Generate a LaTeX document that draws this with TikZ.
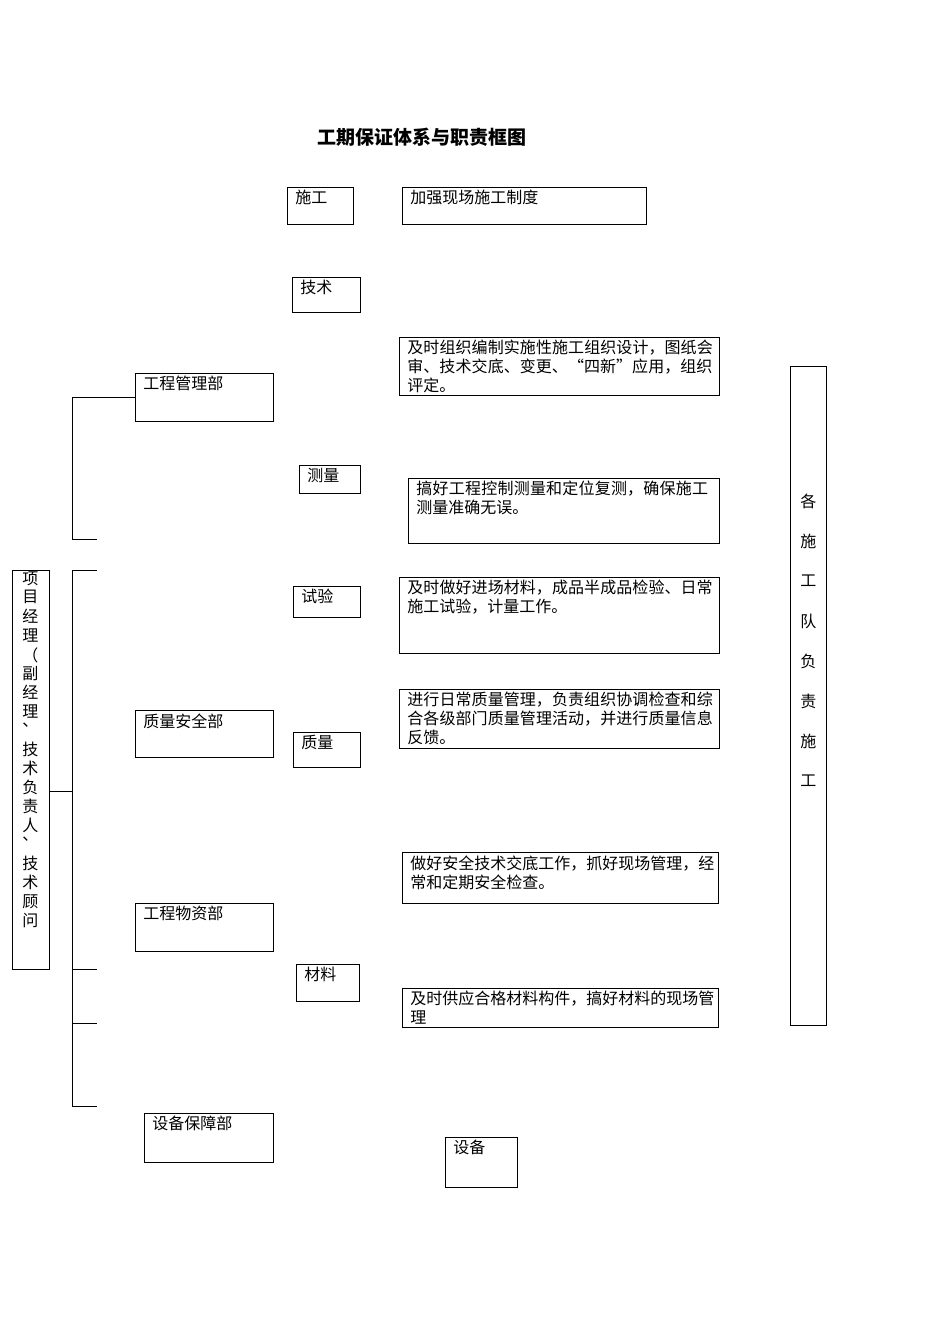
\documentclass[tikz,border=0pt]{standalone}
\usepackage{fontspec}
\newfontfamily\cjk{Noto Sans CJK SC}
\XeTeXlinebreaklocale "zh"
\XeTeXlinebreakskip=0pt plus 1pt
\begin{document}
\begin{tikzpicture}[x=1pt,y=-1pt,line width=0.8pt,
  bx/.style={draw,anchor=north west,inner sep=0pt},
  tx/.style={anchor=north west,align=left,inner sep=0pt,font=\cjk\fontsize{16}{19}\selectfont}]
\useasboundingbox (0,0) rectangle (950,1344);
\newcommand\bx[6]{\pgfmathsetmacro\bw{#4-#2}\pgfmathsetmacro\bh{#5-#3}\pgfmathsetmacro\tw{#4-#2-12}%
  \node[bx,minimum width=\bw pt,minimum height=\bh pt] (#1) at (#2,#3) {};
  \node[tx,text width=\tw pt] (#1t) at (#2+8,#3+3) {#6};}
\node[font=\cjk\bfseries\fontsize{19}{22}\selectfont] (title) at (422,137) {工期保证体系与职责框图};
\bx{a}{287}{187}{353}{224}{施工}
\bx{b}{402}{187}{646}{224}{加强现场施工制度}
\bx{c}{292}{277}{360}{312}{技术}
\bx{d}{399}{337}{719}{395}{及时组织编制实施性施工组织设计，图纸会审、技术交底、变更、“四新”应用，组织评定。}
\bx{e}{135}{373}{273}{421}{工程管理部}
\bx{f}{299}{465}{360}{493}{测量}
\bx{g}{408}{478}{719}{543}{搞好工程控制测量和定位复测，确保施工测量准确无误。}
\bx{h}{293}{586}{360}{617}{试验}
\bx{i}{399}{577}{719}{653}{及时做好进场材料，成品半成品检验、日常施工试验，计量工作。}
\bx{j}{399}{689}{719}{748}{进行日常质量管理，负责组织协调检查和综合各级部门质量管理活动，并进行质量信息反馈。}
\bx{k}{135}{710}{273}{757}{质量安全部}
\bx{l}{293}{732}{360}{767}{质量}
\bx{m}{402}{852}{718}{903}{做好安全技术交底工作，抓好现场管理，经常和定期安全检查。}
\bx{n}{135}{903}{273}{951}{工程物资部}
\bx{o}{296}{964}{359}{1001}{材料}
\bx{p}{402}{988}{718}{1027}{及时供应合格材料构件，搞好材料的现场管理}
\bx{q}{144}{1113}{273}{1162}{设备保障部}
\bx{r}{445}{1137}{517}{1187}{设备}
\node[bx,minimum width=36pt,minimum height=659pt] (s) at (790,366) {};
\foreach \ch [count=\k from 0] in {各,施,工,队,负,责,施,工}
  \node[tx] (s\k) at (800,494+40*\k) {\ch};
\node[bx,minimum width=37pt,minimum height=399pt] (pm) at (12,570) {};
\foreach \ch [count=\k from 0] in {项,目,经,理,（,副,经,理,、,技,术,负,责,人,、,技,术,顾,问}
  \node[tx] (pm\k) at (22,571+19*\k) {\ch};
\coordinate (v1t) at (72,397); \coordinate (v1b) at (72,539);
\draw (e.west |- v1t) -- (v1t) -- (v1b) -- (97,539);
\coordinate (v2t) at (72,570); \coordinate (v2b) at (72,1106);
\draw (97,570) -- (v2t) -- (v2b) -- (97,1106);
\draw (72,969) -- (97,969); \draw (72,1023) -- (97,1023);
\draw (pm.east |- 0,791) -- (72,791);
\end{tikzpicture}
\end{document}
